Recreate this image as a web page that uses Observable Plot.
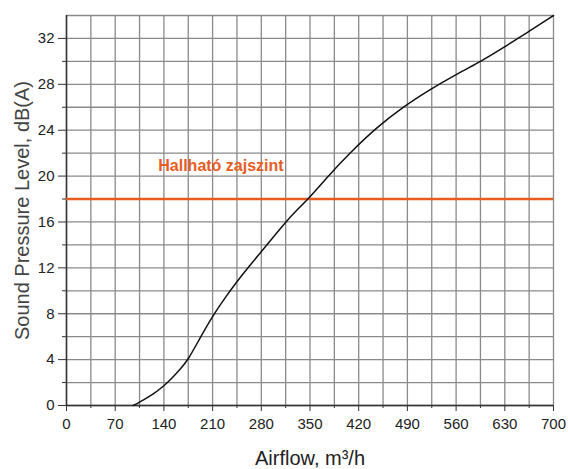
<!DOCTYPE html>
<html>
<head>
<meta charset="utf-8">
<script src="https://cdn.jsdelivr.net/npm/d3@7"></script>
<script src="https://cdn.jsdelivr.net/npm/@observablehq/plot@0.6"></script>
<style>
  html, body { margin: 0; padding: 0; background: #fff; }
  svg { font-family: "Liberation Sans", Arial, sans-serif; }
</style>
</head>
<body>
<div id="chart"></div>
<script>
// Curve data
const airflow = [96, 105, 125, 140, 152, 164, 175, 192, 211, 228, 245, 262, 288, 315, 332, 349, 376, 407, 445, 483, 524, 558, 593, 628, 662, 700];
const spl     = [0, 0.3, 1.0, 1.7, 2.4, 3.2, 4.0, 5.9, 7.9, 9.4, 10.8, 12.1, 14.0, 16.0, 17.1, 18.1, 20.0, 22.0, 24.2, 26.0, 27.6, 28.8, 29.9, 31.2, 32.5, 34.0];

const xTicks = [0, 70, 140, 210, 280, 350, 420, 490, 560, 630, 700];
const xMinor = [35, 105, 175, 245, 315, 385, 455, 525, 595, 665];
const yTicks = [0, 4, 8, 12, 16, 20, 24, 28, 32];
const yMinor = [2, 6, 10, 14, 18, 22, 26, 30, 34];

const threshold = [18];
const thresholdLabel = ["Hallható zajszint"];
const labelPos = {x: 222, y: 20.85};

const xLabel = "Airflow, m³/h";
const yLabel = "Sound Pressure Level, dB(A)";

const data = airflow.map((x, i) => ({x, y: spl[i]}));
const gridColor = "#8a8a8a";

const chart = Plot.plot({
  width: 568,
  height: 469,
  marginLeft: 66,
  marginRight: 15,
  marginTop: 15,
  marginBottom: 64,
  style: {fontFamily: "'Liberation Sans', Arial, sans-serif", background: "#fff"},
  x: {domain: [0, 700]},
  y: {domain: [0, 34]},
  marks: [
    Plot.gridX([...xTicks, ...xMinor], {stroke: gridColor, strokeOpacity: 1, strokeWidth: 1.3}),
    Plot.gridY([...yTicks, ...yMinor], {stroke: gridColor, strokeOpacity: 1, strokeWidth: 1.3}),
    Plot.axisX(xMinor, {tickSize: 3, tickFormat: () => "", stroke: "#333", label: null}),
    Plot.axisX(xTicks, {tickSize: 6, tickPadding: 7, fontSize: 15, fill: "#222", stroke: "#333", label: null}),
    Plot.axisY(yMinor.filter(d => d < 34), {tickSize: 4, tickFormat: () => "", stroke: "#333", label: null}),
    Plot.axisY(yTicks, {tickSize: 8, tickPadding: 4, fontSize: 15, fill: "#222", stroke: "#333", label: null}),
    Plot.ruleX([0], {stroke: "#333", strokeWidth: 1.5}),
    Plot.ruleY([0], {stroke: "#333", strokeWidth: 1.5}),
    Plot.ruleY(threshold, {stroke: "#e85d1f", strokeWidth: 2.6}),
    Plot.text(thresholdLabel, {x: labelPos.x, y: labelPos.y, text: d => d, fill: "#e85d1f", fontSize: 16, fontWeight: "bold", textAnchor: "middle", lineAnchor: "middle"}),
    Plot.line(data, {x: "x", y: "y", stroke: "#111", strokeWidth: 1.5, curve: "basis"}),
    Plot.text([xLabel], {frameAnchor: "bottom", dy: 53, text: d => d, fontSize: 20, fill: "#222", textAnchor: "middle", lineAnchor: "middle"}),
    Plot.text([yLabel], {frameAnchor: "left", dx: -44, rotate: -90, text: d => d, fontSize: 20, fill: "#444", textAnchor: "middle", lineAnchor: "middle"})
  ]
});
document.getElementById("chart").appendChild(chart);
</script>
</body>
</html>
